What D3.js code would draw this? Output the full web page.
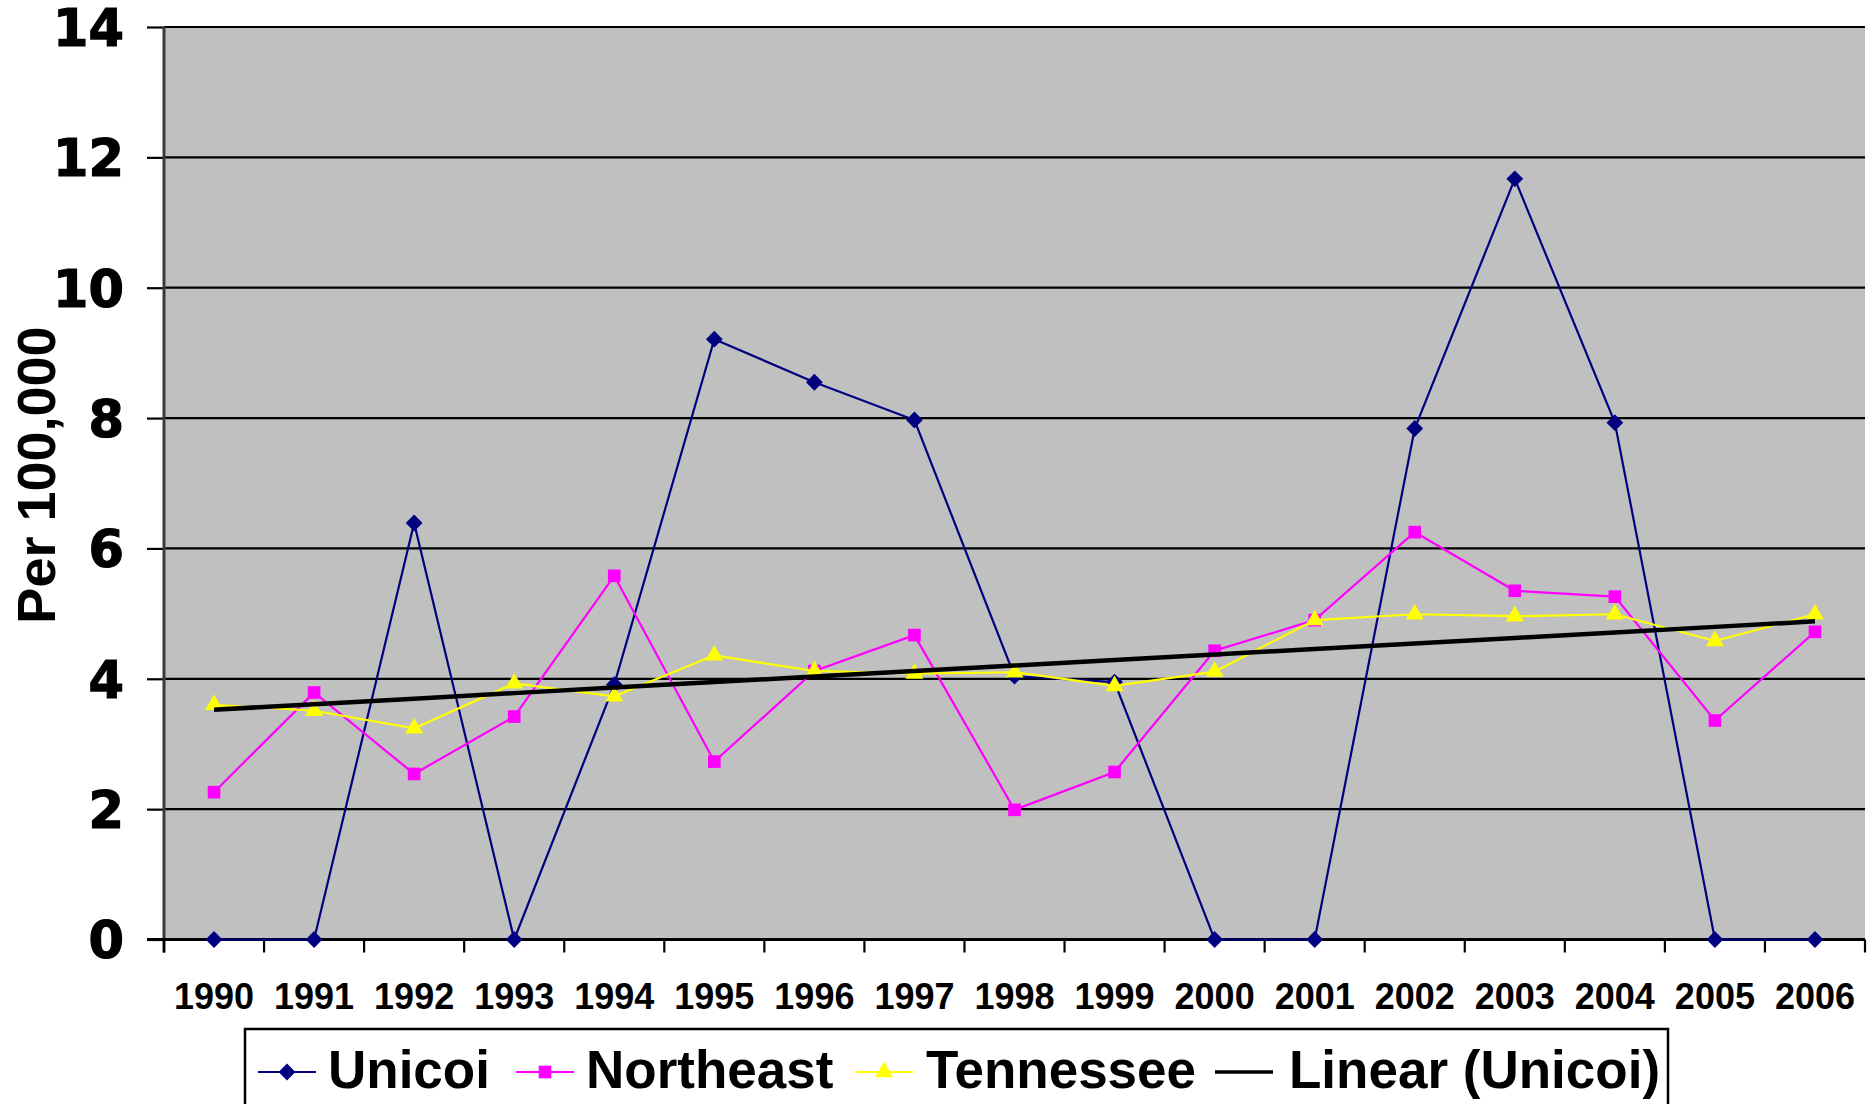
<!DOCTYPE html>
<html>
<head>
<meta charset="utf-8">
<script src="https://cdn.jsdelivr.net/npm/d3@7"></script>
<style>
  html, body { margin: 0; padding: 0; background: #fff; }
  svg { display: block; }
</style>
</head>
<body>
<svg id="chart" width="1871" height="1104"></svg>
<script>
const years = ["1990","1991","1992","1993","1994","1995","1996","1997","1998","1999","2000","2001","2002","2003","2004","2005","2006"];
const unicoi    = [0, 0, 6.39, 0, 3.91, 9.21, 8.55, 7.97, 4.04, 3.95, 0, 0, 7.84, 11.67, 7.93, 0, 0];
const northeast = [2.26, 3.79, 2.54, 3.42, 5.58, 2.73, 4.12, 4.67, 1.99, 2.57, 4.43, 4.90, 6.25, 5.35, 5.26, 3.36, 4.72];
const tennessee = [3.60, 3.51, 3.24, 3.93, 3.73, 4.36, 4.12, 4.08, 4.10, 3.89, 4.11, 4.90, 4.99, 4.96, 4.99, 4.58, 4.99];
const yTicks = [0, 2, 4, 6, 8, 10, 12, 14];
const seriesNames = ["Unicoi", "Northeast", "Tennessee", "Linear (Unicoi)"];
const yTitle = "Per 100,000";

const svg = d3.select("#chart");
const L = 164, R = 1865, T = 27, B = 939.5;

const x = d3.scaleBand().domain(years).range([L, R]).padding(0);
const y = d3.scaleLinear().domain([0, 14]).range([B, T]);
const cx = d => x(d) + x.bandwidth() / 2;

// plot background
svg.append("rect").attr("x", L).attr("y", T).attr("width", R - L).attr("height", B - T).attr("fill", "#c0c0c0");

// gridlines
svg.append("g").selectAll("line").data(yTicks.filter(v => v > 0)).join("line")
  .attr("x1", L).attr("x2", R).attr("y1", d => y(d)).attr("y2", d => y(d))
  .attr("stroke", "#000").attr("stroke-width", 2.2);

// y axis
const yAxis = d3.axisLeft(y).tickValues(yTicks).tickSize(17).tickPadding(23).tickFormat(d3.format("d"));
const gy = svg.append("g").attr("transform", `translate(${L},0)`).call(yAxis);
gy.select(".domain").remove();
gy.selectAll(".tick line").attr("stroke", "#000").attr("stroke-width", 2.2);
gy.selectAll(".tick text")
  .attr("font-family", "'DejaVu Sans', sans-serif").attr("font-weight", "bold")
  .attr("font-size", 51).attr("fill", "#000").attr("stroke", "#000").attr("stroke-width", 1.2)
  .attr("dy", "0.36em");
svg.append("line").attr("x1", L).attr("x2", L).attr("y1", T).attr("y2", B + 13)
  .attr("stroke", "#3a3a3a").attr("stroke-width", 3);

// x axis
const xAxis = d3.axisBottom(x).tickSize(0).tickPadding(0);
const gx = svg.append("g").attr("transform", `translate(0,${B})`).call(xAxis);
gx.select(".domain").remove();
gx.selectAll(".tick text")
  .attr("font-family", "'Liberation Sans', Arial, sans-serif").attr("font-weight", "bold")
  .attr("font-size", 36).attr("fill", "#000").attr("dy", 0).attr("y", 69);
// boundary ticks
const bounds = years.map(d => x(d)).concat([R]);
svg.append("g").selectAll("line").data(bounds).join("line")
  .attr("x1", d => d).attr("x2", d => d).attr("y1", B).attr("y2", B + 13)
  .attr("stroke", "#000").attr("stroke-width", 2.2);
svg.append("line").attr("x1", L - 17).attr("x2", R).attr("y1", B).attr("y2", B)
  .attr("stroke", "#000").attr("stroke-width", 3.2);

// y title
svg.append("text").attr("transform", `translate(55,475) rotate(-90)`)
  .attr("text-anchor", "middle")
  .attr("font-family", "'Liberation Sans', Arial, sans-serif").attr("font-weight", "bold")
  .attr("font-size", 54).attr("fill", "#000").text(yTitle);

// series
const line = d3.line().x((d, i) => cx(years[i])).y(d => y(d));
const colors = { Unicoi: "#000080", Northeast: "#ff00ff", Tennessee: "#ffff00" };
const sym = {
  Unicoi: d3.symbol().type(d3.symbolDiamond2).size(180),
  Northeast: d3.symbol().type(d3.symbolSquare).size(160),
  Tennessee: d3.symbol().type(d3.symbolTriangle).size(140)
};
const seriesData = [["Unicoi", unicoi], ["Northeast", northeast], ["Tennessee", tennessee]];
seriesData.forEach(([name, vals]) => {
  const g = svg.append("g");
  g.append("path").datum(vals).attr("d", line).attr("fill", "none")
    .attr("stroke", colors[name]).attr("stroke-width", 2.2);
  g.selectAll("path.m").data(vals).join("path").attr("class", "m")
    .attr("transform", (d, i) => `translate(${cx(years[i])},${y(d)})`)
    .attr("d", sym[name]()).attr("fill", colors[name]);
});

// linear trend of Unicoi (least squares)
const n = unicoi.length;
const xm = d3.mean(d3.range(n)), ym = d3.mean(unicoi);
const slope = d3.sum(d3.range(n), i => (i - xm) * (unicoi[i] - ym)) / d3.sum(d3.range(n), i => (i - xm) ** 2);
const icpt = ym - slope * xm;
const trend = d3.range(n).map(i => icpt + slope * i);
svg.append("path").datum(trend).attr("d", line).attr("fill", "none")
  .attr("stroke", "#000").attr("stroke-width", 4.5);

// legend
const lg = svg.append("g");
lg.append("rect").attr("x", 245).attr("y", 1029).attr("width", 1423).attr("height", 110)
  .attr("fill", "#fff").attr("stroke", "#000").attr("stroke-width", 2.5);
const legendItems = [
  { name: seriesNames[0], x0: 258, tx: 328, color: colors.Unicoi, s: sym.Unicoi, w: 2.2 },
  { name: seriesNames[1], x0: 516, tx: 586, color: colors.Northeast, s: sym.Northeast, w: 2.2 },
  { name: seriesNames[2], x0: 855, tx: 926, color: colors.Tennessee, s: sym.Tennessee, w: 2.2 },
  { name: seriesNames[3], x0: 1215, tx: 1289, color: "#000", s: null, w: 3.5 }
];
const ly = 1072;
legendItems.forEach(it => {
  lg.append("line").attr("x1", it.x0).attr("x2", it.x0 + 58).attr("y1", ly).attr("y2", ly)
    .attr("stroke", it.color).attr("stroke-width", it.w);
  if (it.s) lg.append("path").attr("transform", `translate(${it.x0 + 29},${ly})`)
    .attr("d", it.s()).attr("fill", it.color);
  lg.append("text").attr("x", it.tx).attr("y", 1088)
    .attr("font-family", "'Liberation Sans', Arial, sans-serif").attr("font-weight", "bold")
    .attr("font-size", 53).attr("fill", "#000").text(it.name);
});
</script>
</body>
</html>
